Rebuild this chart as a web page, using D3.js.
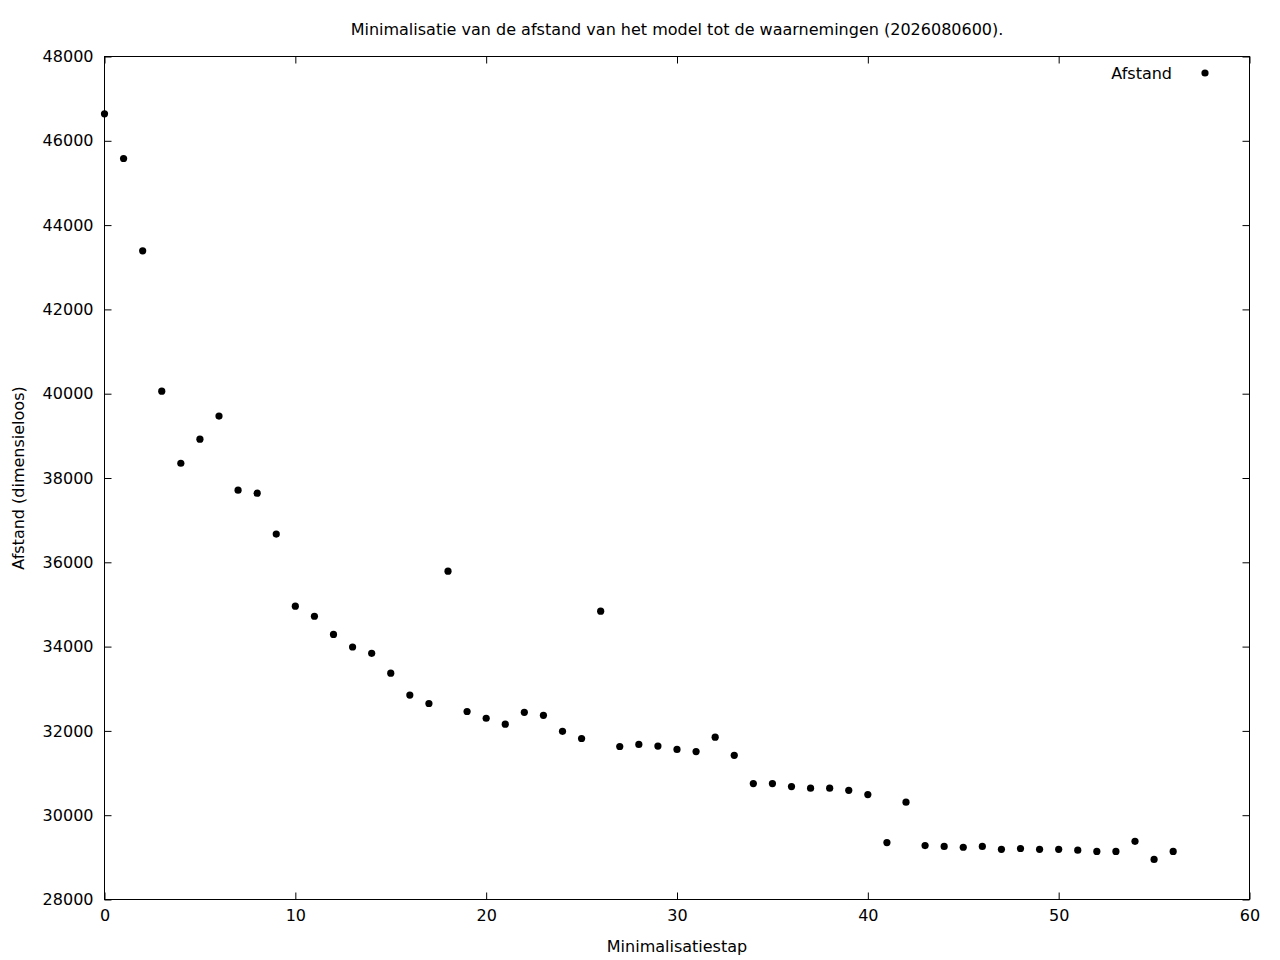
<!DOCTYPE html>
<html><head><meta charset="utf-8">
<script src="https://cdn.jsdelivr.net/npm/d3@7"></script>
<style>
body{margin:0;background:#fff;}
text{font-family:"DejaVu Sans",sans-serif;font-size:16px;fill:#000;}
</style></head>
<body>
<svg id="c" width="1280" height="960"></svg>
<script>
const steps = [0,1,2,3,4,5,6,7,8,9,10,11,12,13,14,15,16,17,18,19,20,21,22,23,24,25,26,27,28,29,30,31,32,33,34,35,36,37,38,39,40,41,42,43,44,45,46,47,48,49,50,51,52,53,54,55,56];
const afstand = [46640,45580,43390,40060,38350,38920,39470,37710,37640,36670,34960,34720,34290,33990,33840,33370,32850,32650,35790,32460,32300,32160,32440,32370,31990,31820,34840,31630,31680,31640,31560,31510,31850,31420,30750,30750,30680,30640,30640,30590,30490,29350,30310,29280,29260,29240,29260,29190,29210,29190,29190,29170,29140,29140,29380,28950,29140];
const xTicks = [0,10,20,30,40,50,60];
const yTicks = [28000,30000,32000,34000,36000,38000,40000,42000,44000,46000,48000];
const title = "Minimalisatie van de afstand van het model tot de waarnemingen (2026080600).";
const xLabel = "Minimalisatiestap";
const yLabel = "Afstand (dimensieloos)";
const legendLabel = "Afstand";

const L=104.5, R=1249.5, T=56.5, B=899.5;
const svg = d3.select("#c");
const x = d3.scaleLinear().domain([0,60]).range([L,R]);
const y = d3.scaleLinear().domain([28000,48000]).range([B,T]);
const fmt = d3.format("d");

const g = svg.append("g");
const xb = g.append("g").attr("transform",`translate(0,${B})`).call(d3.axisBottom(x).tickValues(xTicks).tickFormat(fmt).tickSizeInner(-7).tickSizeOuter(0).tickPadding(10));
const xt = g.append("g").attr("transform",`translate(0,${T})`).call(d3.axisTop(x).tickValues(xTicks).tickSizeInner(-7).tickSizeOuter(0).tickFormat(""));
const yl = g.append("g").attr("transform",`translate(${L},0)`).call(d3.axisLeft(y).tickValues(yTicks).tickFormat(fmt).tickSizeInner(-7).tickSizeOuter(0).tickPadding(11));
const yr = g.append("g").attr("transform",`translate(${R},0)`).call(d3.axisRight(y).tickValues(yTicks).tickSizeInner(-7).tickSizeOuter(0).tickFormat(""));
[xb,xt,yl,yr].forEach(a=>{a.select(".domain").remove();a.attr("font-size",null).attr("font-family",null);a.selectAll("line").attr("stroke","#000");});
g.append("rect").attr("x",L).attr("y",T).attr("width",R-L).attr("height",B-T).attr("fill","none").attr("stroke","#000").attr("stroke-width",1);

svg.append("g").selectAll("circle").data(steps).join("circle")
 .attr("cx",d=>x(d)).attr("cy",(d,i)=>y(afstand[i])).attr("r",3.6).attr("fill","#000");

svg.append("text").attr("x",677).attr("y",35).attr("text-anchor","middle").text(title);
svg.append("text").attr("x",677).attr("y",952).attr("text-anchor","middle").text(xLabel);
svg.append("text").attr("transform","translate(24,478) rotate(-90)").attr("text-anchor","middle").text(yLabel);
svg.append("text").attr("x",1172).attr("y",79).attr("text-anchor","end").text(legendLabel);
svg.append("circle").attr("cx",1205).attr("cy",73).attr("r",3.6).attr("fill","#000");
</script>
</body></html>
